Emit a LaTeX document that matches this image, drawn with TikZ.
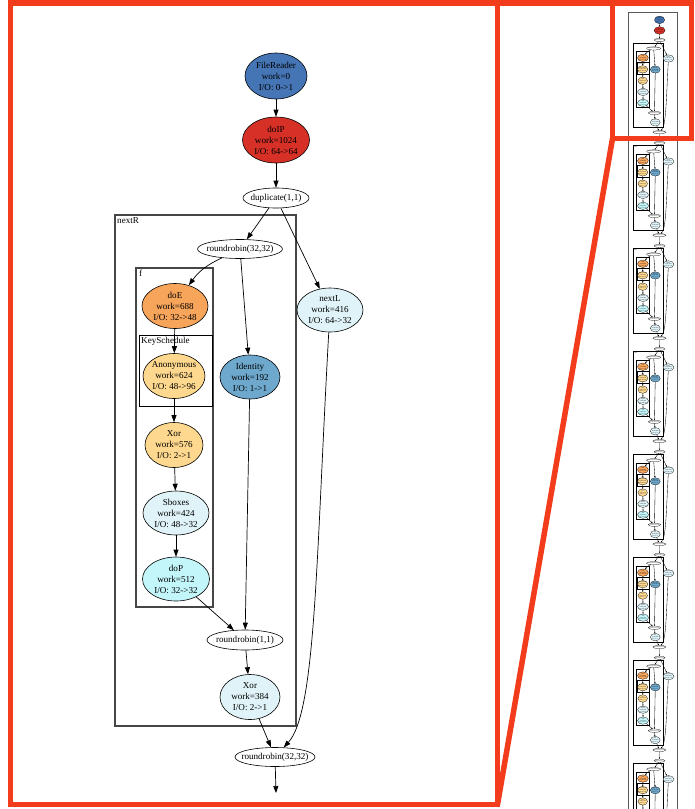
\documentclass[tikz,border=0pt]{standalone}
\usepackage{fontspec}
\setmainfont{Liberation Serif}
\usetikzlibrary{arrows.meta,shapes.geometric}

\definecolor{frameRed}{RGB}{243,60,28}
\definecolor{cFR}{RGB}{69,117,180}
\definecolor{cIP}{RGB}{215,48,39}
\definecolor{cDoE}{RGB}{248,165,92}
\definecolor{cYel}{RGB}{253,216,142}
\definecolor{cLB}{RGB}{224,243,248}
\definecolor{cCy}{RGB}{195,246,250}
\definecolor{cId}{RGB}{110,168,205}

\tikzset{
  ell/.style={ellipse, draw=black, inner sep=0pt, line width=0.6pt},
  lbl/.style={font=\fontsize{9.1}{11}\selectfont, align=center, inner sep=0pt},
  clus/.style={draw=gray!55!black, line width=1.1pt},
  ksclus/.style={draw=black, line width=0.9pt},
  clab/.style={font=\fontsize{9.1}{11}\selectfont, inner sep=0pt, anchor=north west},
  arr/.style={-{Triangle[length=7pt,width=5pt]}, line width=0.7pt},
  framestyle/.style={draw=frameRed, line width=5.5pt},
  thumbbox/.style={draw=gray!70!black, line width=0.8pt},
}

\newcommand{\drawhead}[1]{%
  \node[ell, fill=cFR, minimum width=62, minimum height=46,
        label={[lbl]center:{FileReader\\work=0\\I/O: 0->1}}] (#1-FR) at (276,76) {};
  \node[ell, fill=cIP, minimum width=67, minimum height=46,
        label={[lbl]center:{doIP\\work=1024\\I/O: 64->64}}] (#1-IP) at (276,140) {};
  \draw[arr] (#1-FR) -- (#1-IP);
}

\newcommand{\drawblock}[1]{%
  \draw[clus] (115,215) rectangle (296,726);
  \node[clab] (#1-lnextR) at (117,217) {nextR};
  \draw[clus] (136,268) rectangle (213,607);
  \node[clab] (#1-lf) at (139,270) {f};
  \draw[ksclus] (139,335) rectangle (212,406);
  \node[clab] (#1-lks) at (141,337) {KeySchedule};
  \node[ell, fill=white, minimum width=66, minimum height=20,
        label={[lbl]center:{duplicate(1,1)}}] (#1-dup) at (276,198) {};
  \node[ell, fill=white, minimum width=85, minimum height=19,
        label={[lbl]center:{roundrobin(32,32)}}] (#1-rr1) at (240,249) {};
  \node[ell, fill=cDoE, minimum width=66, minimum height=45,
        label={[lbl]center:{doE\\work=688\\I/O: 32->48}}] (#1-doE) at (175,306) {};
  \node[ell, fill=cYel, minimum width=62, minimum height=45,
        label={[lbl]center:{Anonymous\\work=624\\I/O: 48->96}}] (#1-anon) at (174,376) {};
  \node[ell, fill=cYel, minimum width=58, minimum height=45,
        label={[lbl]center:{Xor\\work=576\\I/O: 2->1}}] (#1-xor) at (174,445) {};
  \node[ell, fill=cLB, minimum width=66, minimum height=44,
        label={[lbl]center:{Sboxes\\work=424\\I/O: 48->32}}] (#1-sbox) at (176,513) {};
  \node[ell, fill=cCy, minimum width=67, minimum height=44,
        label={[lbl]center:{doP\\work=512\\I/O: 32->32}}] (#1-doP) at (176,579) {};
  \node[ell, fill=cId, minimum width=60, minimum height=44,
        label={[lbl]center:{Identity\\work=192\\I/O: 1->1}}] (#1-ident) at (250,377) {};
  \node[ell, fill=cLB, minimum width=66, minimum height=44,
        label={[lbl]center:{nextL\\work=416\\I/O: 64->32}}] (#1-nextL) at (330,310) {};
  \node[ell, fill=white, minimum width=76, minimum height=20,
        label={[lbl]center:{roundrobin(1,1)}}] (#1-rr2) at (245,640) {};
  \node[ell, fill=cLB, minimum width=60, minimum height=45,
        label={[lbl]center:{Xor\\work=384\\I/O: 2->1}}] (#1-xor2) at (250,697) {};
  \node[ell, fill=white, minimum width=80, minimum height=19,
        label={[lbl]center:{roundrobin(32,32)}}] (#1-rr3) at (275,757) {};
  \draw[arr] (#1-dup) -- (#1-rr1);
  \draw[arr] (#1-dup) -- (#1-nextL);
  \draw[arr] (#1-rr1) to[bend right=15] (#1-doE);
  \draw[arr] (#1-rr1) -- (#1-ident);
  \draw[arr] (#1-doE) -- (#1-anon);
  \draw[arr] (#1-anon) -- (#1-xor);
  \draw[arr] (#1-xor) -- (#1-sbox);
  \draw[arr] (#1-sbox) -- (#1-doP);
  \draw[arr] (#1-doP) -- (#1-rr2);
  \draw[arr] (#1-ident) -- (#1-rr2);
  \draw[arr] (#1-rr2) -- (#1-xor2);
  \draw[arr] (#1-xor2) -- (#1-rr3);
  \draw[arr] (#1-nextL) .. controls (316,560) and (316,712) .. (#1-rr3);
}

\begin{document}
\begin{tikzpicture}[x=1pt,y=-1pt]
\useasboundingbox (0,0) rectangle (694,809);

% main view
\drawhead{m}
\drawblock{m}
\draw[arr] (m-IP) -- (m-dup);
\coordinate (m-end) at (276,793);
\draw[arr] (m-rr3) -- (m-end);

% thumbnail overview
\begin{scope}
  \clip (600,8) rectangle (694,809);
  \draw[thumbbox] (628.5,12) rectangle (677,830);
  \begin{scope}[shift={(614.025,7.33)}, scale=0.165, transform shape,
      ell/.style={ellipse, draw=black, inner sep=0pt, line width=0.25pt},
      clus/.style={draw=black, line width=0.6pt},
      ksclus/.style={draw=black, line width=0.8pt},
      arr/.style={-{Triangle[length=1.5pt,width=1.2pt]}, line width=0.35pt}]
    \drawhead{t}
    \foreach \k in {0,...,7} {
      \begin{scope}[shift={(0,624*\k)}]
        \drawblock{t\k}
      \end{scope}
    }
    \draw[arr] (t-IP) -- (t0-dup);
    \foreach \k [evaluate=\k as \n using int(\k+1)] in {0,...,6} {
      \draw[arr] (t\k-rr3) -- (t\n-dup);
    }
  \end{scope}
\end{scope}

% zoom frames
\draw[framestyle] (10.5,3) rectangle (497.5,804.5);
\draw[framestyle] (497.5,3) -- (612.5,3);
\draw[framestyle] (612.5,3) rectangle (691.5,138.5);
\draw[framestyle, line cap=butt] (497.5,804.5) -- (612.5,138.5);
\end{tikzpicture}
\end{document}
